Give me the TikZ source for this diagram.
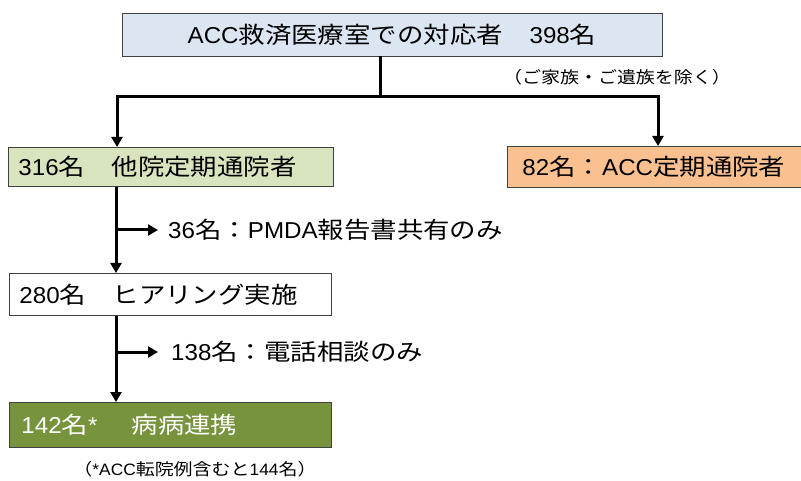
\documentclass[tikz,border=0pt]{standalone}
\usepackage{fontspec}
\setmainfont[FakeStretch=1.05]{Liberation Sans}
\newfontfamily\jp[FakeStretch=1.15]{Noto Sans CJK JP}
\newcommand\jt[1]{{\jp #1}}
\usetikzlibrary{arrows.meta}
\definecolor{topblue}{HTML}{DCE6F2}
\definecolor{lgreen}{HTML}{D7E4BD}
\definecolor{orangef}{HTML}{FAC090}
\definecolor{dgreen}{HTML}{77933C}
\definecolor{bord}{HTML}{404040}
\tikzset{
  box/.style={draw=bord, line width=0.8pt, inner ysep=0pt, font=\fontsize{23}{27}\selectfont},
  lbox/.style={box, anchor=north west, align=left},
  lab/.style={anchor=west, inner ysep=0pt, font=\fontsize{23}{27}\selectfont},
  note/.style={inner sep=0pt, font=\fontsize{16.5}{19}\selectfont},
  conn/.style={line width=3pt},
  arr/.style={conn, -{Triangle[width=11pt,length=10pt]}}
}
\begin{document}
\begin{tikzpicture}[x=1pt,y=-1pt]
\useasboundingbox (0,0) rectangle (801,481);
\node[box, fill=topblue, minimum width=540pt, minimum height=43pt] (top) at (392,34.5)
  {ACC\jt{救済医療室での対応者　}398\jt{名}};
\node[lbox, fill=lgreen, minimum height=39pt, inner xsep=10pt, text width=305pt] (g1) at (8,147)
  {316\jt{名　他院定期通院者}};
\node[lbox, fill=orangef, minimum height=41pt, inner xsep=15pt, text width=265pt] (or) at (507,146)
  {82\jt{名：}ACC\jt{定期通院者}};
\node[lbox, fill=white, minimum height=42pt, inner xsep=10pt, text width=302pt] (wb) at (9,273)
  {280\jt{名　ヒアリング実施}};
\node[lbox, fill=dgreen, text=white, minimum height=45pt, inner xsep=12pt, text width=298pt] (dg) at (9,402)
  {142\jt{名}*\jt{　} \jt{病病連携}};
\node[note] (n0) at (617,77) {\jt{（ご家族・ご遺族を除く）}};
\node[note] (n3) at (195,469) {\jt{（}*ACC\jt{転院例含むと}144\jt{名）}};
\node[lab, inner xsep=10pt] (b1) at (158,230) {36\jt{名：}PMDA\jt{報告書共有のみ}};
\node[lab, inner xsep=13pt] (b2) at (158,352) {138\jt{名：電話相談のみ}};
\coordinate (j) at (380,97);
\coordinate (jl) at (117,97);
\coordinate (jr) at (658,97);
\coordinate (v) at (116,0);
\draw[arr] (top.south -| j) -- (j) -| (or.north -| jr);
\draw[arr] (j) -| (g1.north -| jl);
\draw[arr] (g1.south -| v) -- (wb.north -| v);
\draw[arr] (b1.west -| v) -- (b1.west);
\draw[arr] (wb.south -| v) -- (dg.north -| v);
\draw[arr] (b2.west -| v) -- (b2.west);
\end{tikzpicture}
\end{document}
